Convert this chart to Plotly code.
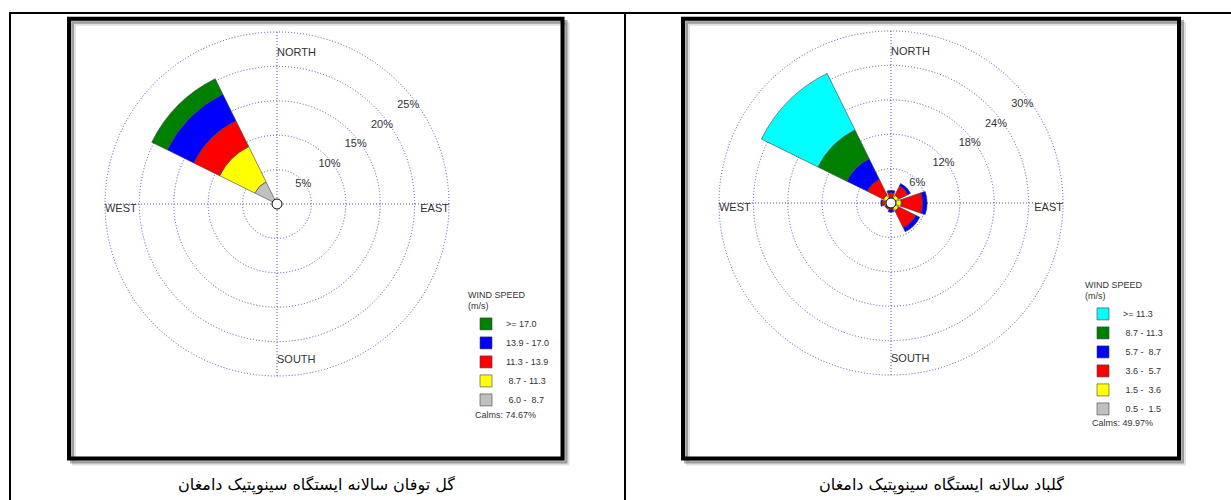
import plotly.graph_objects as go

W, H = 1231, 500

def px(x):
    return x / W

def py(y):
    return 1 - y / H

# ---------------- data ----------------
directions = ["N", "NE", "E", "SE", "S", "SW", "W", "NW"]
dir_angles = [0, 45, 90, 135, 180, 225, 270, 315]

# Storm rose (left) - percent frequency per speed class
storm_labels = ["\u00a06.0 - \u00a08.7", "\u00a08.7 - 11.3", "11.3 - 13.9", "13.9 - 17.0", ">= 17.0"]
storm_6_87 = [None, None, None, None, None, None, None, 3.6]
storm_87_113 = [None, None, None, None, None, None, None, 5.7]
storm_113_139 = [None, None, None, None, None, None, None, 4.2]
storm_139_170 = [None, None, None, None, None, None, None, 4.3]
storm_170_up = [None, None, None, None, None, None, None, 2.5]
storm_calms = 74.67
storm_ticks = [5, 10, 15, 20, 25]

# Wind rose (right) - percent frequency per speed class
wind_labels = ["\u00a00.5 - \u00a01.5", "\u00a01.5 - \u00a03.6", "\u00a03.6 - \u00a05.7",
               "\u00a05.7 - \u00a08.7", "\u00a08.7 - 11.3", ">= 11.3"]
wind_05_15 = [0.2, 0.3, 0.3, 0.3, 0.2, 0.2, 0.2, 0.3]
wind_15_36 = [0.8, 1.2, 1.5, 1.2, 0.5, 0.5, 0.9, 1.2]
wind_36_57 = [0.8, 1.8, 3.7, 3.3, 0.5, 0.3, 0.5, 3.1]
wind_57_87 = [0.4, 0.5, 0.8, 0.8, 0.4, 0.2, 0.2, 4.0]
wind_87_113 = [None, None, None, None, None, None, None, 5.6]
wind_113_up = [None, None, None, None, None, None, None, 11.0]
wind_calms = 49.97
wind_ticks = [6, 12, 18, 24, 30]

storm_series = [storm_6_87, storm_87_113, storm_113_139, storm_139_170, storm_170_up]
storm_colors = ["#C0C0C0", "#FFFF00", "#FF0000", "#0000FF", "#008000"]
wind_series = [wind_05_15, wind_15_36, wind_36_57, wind_57_87, wind_87_113, wind_113_up]
wind_colors = ["#C0C0C0", "#FFFF00", "#FF0000", "#0000FF", "#008000", "#00FFFF"]

captions = ["گل توفان سالانه ایستگاه سینوپتیک دامغان", "گلباد سالانه ایستگاه سینوپتیک دامغان"]

# ---------------- figure ----------------
FONT = "Liberation Sans, Arial, sans-serif"
GRID = "#4f4fc8"
TXT = "#333333"
fig = go.Figure()

def add_rose(subplot, legend, series, colors, labels, ticks):
    for vals, col, lab in zip(series, colors, labels):
        fig.add_trace(go.Barpolar(
            r=vals, theta=dir_angles, width=37.5, name=lab,
            marker=dict(color=col, line=dict(color="#404040", width=0.6)),
            subplot=subplot, legend=legend, hoverinfo="skip"))
    top = ticks[-1]
    # ring labels
    fig.add_trace(go.Scatterpolar(
        r=[t * 0.955 for t in ticks], theta=[53] * len(ticks), mode="text",
        text=[f"{t}%" for t in ticks], textfont=dict(size=11, color=TXT, family=FONT),
        subplot=subplot, showlegend=False, hoverinfo="skip", cliponaxis=False))
    # compass labels
    fig.add_trace(go.Scatterpolar(
        r=[top * 0.91, top, top * 0.94, top], theta=[0, 90, 180, 270], mode="text",
        text=["NORTH", "EAST", "SOUTH", "WEST"],
        textposition=["bottom right", "bottom left", "top right", "bottom right"],
        textfont=dict(size=11, color=TXT, family=FONT),
        subplot=subplot, showlegend=False, hoverinfo="skip", cliponaxis=False))
    # calm circle
    fig.add_trace(go.Scatterpolar(
        r=[0], theta=[0], mode="markers",
        marker=dict(size=10, color="white", line=dict(color="black", width=1)),
        subplot=subplot, showlegend=False, hoverinfo="skip", cliponaxis=False))

add_rose("polar", "legend", storm_series, storm_colors, storm_labels, storm_ticks)
add_rose("polar2", "legend2", wind_series, wind_colors, wind_labels, wind_ticks)

R = 173.4

def polar_layout(cx, cy, ticks):
    top = ticks[-1]
    return dict(
        domain=dict(x=[px(cx - R), px(cx + R)], y=[py(cy + R), py(cy - R)]),
        bgcolor="rgba(0,0,0,0)",
        barmode="stack",
        angularaxis=dict(rotation=90, direction="clockwise", tickvals=[0, 90, 180, 270],
                         showticklabels=False, ticks="", showline=False,
                         showgrid=True, gridcolor=GRID, griddash="1px,2px", gridwidth=1),
        radialaxis=dict(range=[0, top * 1.008], tickvals=ticks, showticklabels=False,
                        ticks="", showline=False, showgrid=True, gridcolor=GRID,
                        griddash="1px,2px", gridwidth=1),
    )

shapes = []

def line(x0, y0, x1, y1, w=2, color="black"):
    shapes.append(dict(type="line", xref="paper", yref="paper",
                       x0=px(x0), y0=py(y0), x1=px(x1), y1=py(y1),
                       line=dict(color=color, width=w), layer="below"))

def rect(x0, y0, x1, y1, w, color):
    shapes.append(dict(type="rect", xref="paper", yref="paper",
                       x0=px(x0), y0=py(y0), x1=px(x1), y1=py(y1),
                       line=dict(color=color, width=w), layer="below"))

# table lines
line(9, 13, 1231, 13)
line(10, 13, 10, 500)
line(625, 13, 625, 500)

# panel frames with shadows
for (x0, y0, x1, y1) in [(69, 18.7, 562.5, 458.5), (683, 18.7, 1179, 458.5)]:
    rect(x0 + 5, y0 + 5, x1 + 5, y1 + 5, 4, "rgba(0,0,0,0.12)")
    rect(x0 + 3, y0 + 3, x1 + 3, y1 + 3, 4, "rgba(0,0,0,0.30)")
    rect(x0, y0, x1, y1, 4, "black")

annotations = [
    dict(text=f"Calms: {storm_calms:.2f}%", x=px(473), y=py(415), xref="paper", yref="paper",
         xanchor="left", yanchor="middle", showarrow=False,
         font=dict(size=9, color=TXT, family=FONT)),
    dict(text=f"Calms: {wind_calms:.2f}%", x=px(1090), y=py(423), xref="paper", yref="paper",
         xanchor="left", yanchor="middle", showarrow=False,
         font=dict(size=9, color=TXT, family=FONT)),
    dict(text=captions[0], x=px(316), y=py(485), xref="paper", yref="paper",
         xanchor="center", yanchor="middle", showarrow=False,
         font=dict(size=16, color="black", family="DejaVu Sans")),
    dict(text=captions[1], x=px(941), y=py(485), xref="paper", yref="paper",
         xanchor="center", yanchor="middle", showarrow=False,
         font=dict(size=16, color="black", family="DejaVu Sans")),
]

def legend_layout(x, y):
    return dict(x=px(x), y=py(y), xanchor="left", yanchor="top",
                traceorder="reversed", bgcolor="rgba(0,0,0,0)",
                font=dict(size=9, color=TXT, family=FONT),
                title=dict(text="WIND SPEED<br>(m/s)", font=dict(size=9, color=TXT, family=FONT)),
                itemclick=False, itemdoubleclick=False, tracegroupgap=0)

fig.update_layout(
    width=W, height=H, autosize=False,
    margin=dict(l=0, r=0, t=0, b=0),
    paper_bgcolor="white", plot_bgcolor="white",
    polar=polar_layout(277, 204, storm_ticks),
    polar2=polar_layout(891, 203, wind_ticks),
    legend=legend_layout(466, 286),
    legend2=legend_layout(1083, 276),
    shapes=shapes, annotations=annotations,
    showlegend=True,
)

fig.write_html("out.html", config={"displayModeBar": False},
               post_script="document.body.style.margin='0';document.body.style.overflow='hidden';")
